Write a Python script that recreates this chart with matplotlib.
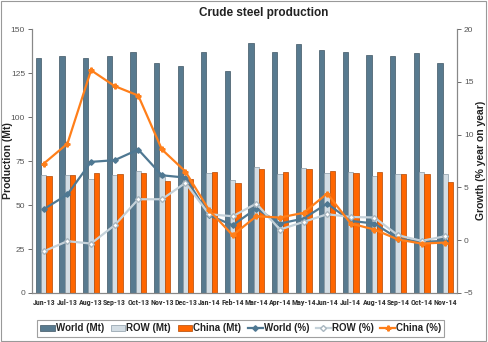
import numpy as np
import matplotlib.pyplot as plt
from matplotlib import font_manager
from matplotlib.patches import Rectangle

plt.rcParams['font.family'] = ['Liberation Sans', 'DejaVu Sans']

# a condensed face for the crowded month labels, if one is installed
installed = {f.name for f in font_manager.fontManager.ttflist}
narrow = None
for cand in ['Liberation Sans Narrow', 'Roboto Condensed', 'DejaVu Sans Condensed',
             'Open Sans Condensed', 'Noto Sans Condensed']:
    if cand in installed:
        narrow = cand
        break

months = ['Jun-13', 'Jul-13', 'Aug-13', 'Sep-13', 'Oct-13', 'Nov-13', 'Dec-13', 'Jan-14', 'Feb-14',
          'Mar-14', 'Apr-14', 'May-14', 'Jun-14', 'Jul-14', 'Aug-14', 'Sep-14', 'Oct-14', 'Nov-14']
world_mt = [133.3, 134.7, 133.3, 134.7, 136.7, 130.5, 129.0, 137.1, 126.1,
            142.0, 136.7, 141.5, 138.0, 137.1, 135.2, 134.8, 136.5, 130.9]
row_mt = [67.0, 67.2, 64.6, 66.9, 69.1, 66.1, 64.0, 68.4, 64.2,
          71.4, 67.6, 71.0, 68.4, 68.8, 66.5, 67.4, 68.8, 67.4]
china_mt = [66.5, 67.2, 68.4, 67.4, 68.0, 63.6, 65.0, 68.8, 62.3,
            70.3, 68.8, 70.5, 69.1, 68.2, 68.9, 67.4, 67.4, 63.2]
world_pct = [2.94, 4.33, 7.42, 7.58, 8.59, 6.15, 5.93, 2.37, 1.42,
             3.0, 1.58, 2.05, 3.47, 1.83, 1.58, 0.16, -0.16, -0.06]
row_pct = [-1.05, -0.09, -0.32, 1.42, 3.88, 3.88, 5.43, 2.46, 2.27,
           3.47, 1.01, 1.73, 2.46, 2.2, 2.15, 0.47, -0.06, 0.38]
china_pct = [7.26, 9.15, 16.1, 14.6, 13.7, 8.6, 6.5, 2.84, 0.47,
             2.27, 2.15, 2.59, 4.42, 1.58, 1.01, 0.07, -0.32, -0.22]

c_world = '#587a8f'
c_row = '#d3dde4'
c_china = '#ff6600'
c_world_line = '#4f7892'
c_row_line = '#c5d2da'
c_china_line = '#ff7f1a'

fig = plt.figure(figsize=(4.88, 3.42), dpi=100)
fig.subplots_adjust(left=0.0656, right=0.9365, top=0.915, bottom=0.1433)
ax = fig.add_subplot(111)
ax2 = ax.twinx()

x = np.arange(len(months))
w = 0.225
ax.bar(x - w, world_mt, w, color=c_world, edgecolor='#3f5563', linewidth=0.5, label='World (Mt)')
ax.bar(x, row_mt, w, color=c_row, edgecolor='#8a9aa5', linewidth=0.5, label='ROW (Mt)')
ax.bar(x + w, china_mt, w, color=c_china, edgecolor='#b34700', linewidth=0.5, label='China (Mt)')

ax2.plot(x, world_pct, color=c_world_line, lw=1.6, marker='D', ms=2.8, label='World (%)')
ax2.plot(x, row_pct, color=c_row_line, lw=1.6, marker='D', ms=3, mfc='white', mec='#a8b6bf',
         label='ROW (%)')
ax2.plot(x, china_pct, color=c_china_line, lw=1.6, marker='P', ms=3.5, label='China (%)')

ax.set_xlim(-0.5, len(months) - 0.5)
ax.set_ylim(0, 150)
ax.set_yticks(range(0, 151, 25))
ax2.set_ylim(-5, 20)
ax2.set_yticks(range(-5, 21, 5))
ax.set_xticks(x)
if narrow:
    ax.set_xticklabels(months, fontsize=5.8, fontweight='bold', color='#333333', family=narrow)
else:
    ax.set_xticklabels(months, fontsize=5.0, fontweight='bold', color='#333333')

for a in (ax, ax2):
    a.spines['top'].set_visible(False)
    for s in ('left', 'right', 'bottom'):
        a.spines[s].set_color('#888888')
        a.spines[s].set_linewidth(0.8)
    a.tick_params(axis='y', labelsize=6, colors='#555555', length=3, width=0.6, pad=2)
ax.tick_params(axis='x', length=0, pad=4)

fig.text(7.7 / 488, 0.53, 'Production (Mt)', rotation=90, ha='center', va='center',
         fontsize=7.5, fontweight='bold', color='#222222')
fig.text(481 / 488, 0.53, 'Growth (% year on year)', rotation=90, ha='center', va='center',
         fontsize=7.5, fontweight='bold', color='#222222')

fig.text(0.54, 0.962, 'Crude steel production', ha='center', va='center',
         fontsize=8.5, fontweight='bold', color='#222222')

h1, l1 = ax.get_legend_handles_labels()
h2, l2 = ax2.get_legend_handles_labels()
leg = fig.legend(h1 + h2, l1 + l2, loc='center', bbox_to_anchor=(0.493, 0.04), ncol=6,
                 prop={'size': 7, 'weight': 'bold'}, frameon=True, fancybox=False,
                 handlelength=1.5, handletextpad=0.1, columnspacing=0.7, borderpad=0.35)
leg.get_frame().set_edgecolor('#888888')
leg.get_frame().set_linewidth(0.8)
for t in leg.get_texts():
    t.set_color('#222222')

fig.patches.append(Rectangle((0.002, 0.002), 0.993, 0.995, transform=fig.transFigure,
                             fill=False, edgecolor='#999999', linewidth=0.8))

fig.savefig('out.png', dpi=100)
